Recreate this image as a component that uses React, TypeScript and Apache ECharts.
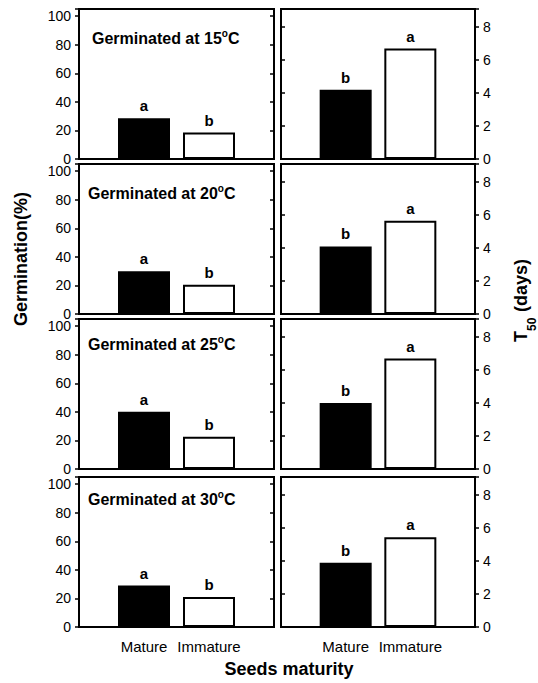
import React, { useEffect, useRef } from "react";
import * as echarts from "echarts";

// ---- data ----
const categories = ["", "Mature", "Immature", ""];
const temperatures = ["15", "20", "25", "30"];
const germMature = [28.5, 30, 40, 29];
const germImmature = [18.5, 20.5, 22.5, 21];
const germLettersMature = ["a", "a", "a", "a"];
const germLettersImmature = ["b", "b", "b", "b"];
const t50Mature = [4.2, 4.1, 4.0, 3.9];
const t50Immature = [6.7, 5.65, 6.7, 5.45];
const t50LettersMature = ["b", "b", "b", "b"];
const t50LettersImmature = ["a", "a", "a", "a"];
const germTicks = [0, 20, 40, 60, 80, 100];
const t50Ticks = [0, 2, 4, 6, 8];

const FONT = '"Liberation Sans", Arial, Helvetica, sans-serif';

export default function App() {
  const ref = useRef<HTMLDivElement>(null);
  useEffect(() => {
    if (!ref.current) return;
    const chart = echarts.init(ref.current, null, { renderer: "svg" });

    const tops = [9, 164, 319, 477];
    const panelH = 150;
    const leftX = 79, leftW = 195;
    const rightX = 281, rightW = 194;

    const grids: any[] = [];
    const xAxes: any[] = [];
    const yAxes: any[] = [];
    const series: any[] = [];
    const graphics: any[] = [];

    const axisLine = { show: true, lineStyle: { color: "#000", width: 2 } };

    const makeBar = (
      xi: number, yi: number, v1: number, v2: number, l1: string, l2: string
    ) => ({
      type: "bar",
      xAxisIndex: xi,
      yAxisIndex: yi,
      barWidth: 52,
      label: {
        show: true,
        position: "top",
        distance: 5,
        fontFamily: FONT,
        fontWeight: "bold",
        fontSize: 15,
        color: "#000",
      },
      data: [
        "-",
        {
          value: v1,
          itemStyle: { color: "#000", borderColor: "#000", borderWidth: 2 },
          label: { formatter: l1 },
        },
        {
          value: v2,
          itemStyle: { color: "#fff", borderColor: "#000", borderWidth: 2 },
          label: { formatter: l2 },
        },
        "-",
      ],
    });

    const titleX = [92, 88, 88, 88];
    const titleY = [37, 192, 343, 498];

    temperatures.forEach((t, r) => {
      const isBottom = r === temperatures.length - 1;
      [0, 1].forEach((c) => {
        const gi = grids.length;
        grids.push({
          left: c === 0 ? leftX : rightX,
          top: tops[r],
          width: c === 0 ? leftW : rightW,
          height: panelH,
          show: true,
          borderColor: "#000",
          borderWidth: 2,
          backgroundColor: "transparent",
        });
        xAxes.push({
          type: "category",
          gridIndex: gi,
          data: categories,
          boundaryGap: false,
          axisLine,
          axisTick: { show: false },
          axisLabel: {
            show: isBottom,
            interval: 0,
            fontFamily: FONT,
            fontSize: 15,
            color: "#000",
            margin: 12,
          },
          splitLine: { show: false },
        });
        const isGerm = c === 0;
        const ticks = isGerm ? germTicks : t50Ticks;
        const step = ticks[1] - ticks[0];
        const top = ticks[ticks.length - 1];
        const yCommon = {
          type: "value",
          gridIndex: gi,
          min: 0,
          max: isGerm ? 105 : 9.1,
          interval: step,
          splitLine: { show: false },
          axisLine,
        };
        const yiMain = yAxes.length;
        yAxes.push({
          ...yCommon,
          position: isGerm ? "left" : "right",
          axisTick: { show: true, inside: false, length: 4, lineStyle: { color: "#000", width: 1.5 } },
          axisLabel: {
            show: true,
            fontFamily: FONT,
            fontSize: 14,
            color: "#000",
            margin: 8,
            formatter: (v: number) =>
              ticks.indexOf(Math.round(v * 1000) / 1000) >= 0 && v <= top ? String(v) : "",
          },
        });
        yAxes.push({
          ...yCommon,
          position: isGerm ? "right" : "left",
          axisTick: { show: true, inside: true, length: 4, lineStyle: { color: "#000", width: 1.5 } },
          axisLabel: { show: false },
        });
        if (isGerm) {
          series.push(
            makeBar(gi, yiMain, germMature[r], germImmature[r], germLettersMature[r], germLettersImmature[r])
          );
        } else {
          series.push(
            makeBar(gi, yiMain, t50Mature[r], t50Immature[r], t50LettersMature[r], t50LettersImmature[r])
          );
        }
      });

      graphics.push({
        type: "text",
        x: titleX[r],
        y: titleY[r],
        style: {
          text: `{n|Germinated at ${t}}{s|o}{n|C}`,
          align: "left",
          verticalAlign: "middle",
          fill: "#000",
          rich: {
            n: { fontFamily: FONT, fontWeight: "bold", fontSize: 16, lineHeight: 18, color: "#000", verticalAlign: "bottom" },
            s: { fontFamily: FONT, fontWeight: "bold", fontSize: 10, lineHeight: 10, color: "#000", verticalAlign: "top" },
          },
        },
      });
    });

    graphics.push({
      type: "text",
      x: 21,
      y: 259,
      rotation: Math.PI / 2,
      style: {
        text: "Germination(%)",
        font: `bold 18px ${FONT}`,
        fill: "#000",
        align: "center",
        verticalAlign: "middle",
      },
    });
    graphics.push({
      type: "group",
      x: 521,
      y: 342,
      rotation: Math.PI / 2,
      children: [
        {
          type: "text",
          x: 0,
          y: 0,
          style: { text: "T", font: `bold 18px ${FONT}`, fill: "#000", align: "left", verticalAlign: "middle" },
        },
        {
          type: "text",
          x: 11,
          y: 11,
          style: { text: "50", font: `bold 12px ${FONT}`, fill: "#000", align: "left", verticalAlign: "middle" },
        },
        {
          type: "text",
          x: 30,
          y: 0,
          style: { text: "(days)", font: `bold 18px ${FONT}`, fill: "#000", align: "left", verticalAlign: "middle" },
        },
      ],
    });
    graphics.push({
      type: "text",
      x: 289,
      y: 669,
      style: {
        text: "Seeds maturity",
        font: `bold 18px ${FONT}`,
        fill: "#000",
        align: "center",
        verticalAlign: "middle",
      },
    });

    chart.setOption({
      animation: false,
      backgroundColor: "#fff",
      grid: grids,
      xAxis: xAxes,
      yAxis: yAxes,
      series,
      graphic: graphics,
    });
    return () => chart.dispose();
  }, []);
  return (
    <div
      ref={ref}
      style={{ position: "fixed", left: 0, top: 0, width: 538, height: 683 }}
    />
  );
}
